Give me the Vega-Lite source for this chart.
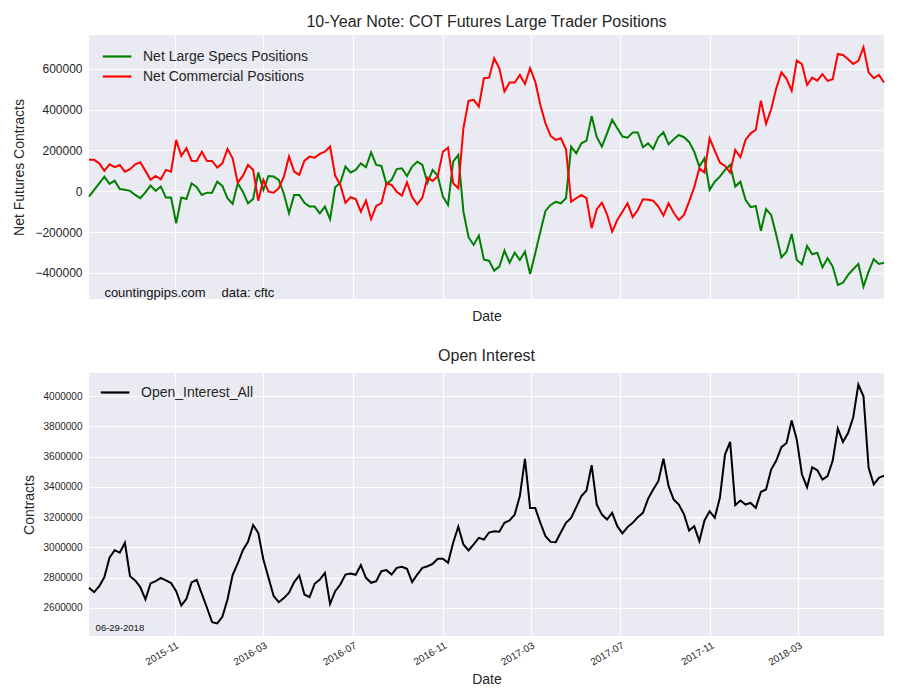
{
  "$schema": "https://vega.github.io/schema/vega-lite/v6.json",
  "background": "white",
  "padding": {"left": 12, "top": 14, "right": 14, "bottom": 10},
  "spacing": 25,
  "datasets": {
    "cot": [
      {"Date":"2015-07-07","Specs":-26000,"Commercial":154000,"Open_Interest_All":2732000},
      {"Date":"2015-07-14","Specs":7000,"Commercial":154000,"Open_Interest_All":2703000},
      {"Date":"2015-07-21","Specs":39000,"Commercial":137000,"Open_Interest_All":2743000},
      {"Date":"2015-07-28","Specs":72000,"Commercial":100000,"Open_Interest_All":2803000},
      {"Date":"2015-08-04","Specs":36000,"Commercial":132000,"Open_Interest_All":2931000},
      {"Date":"2015-08-11","Specs":52000,"Commercial":118000,"Open_Interest_All":2981000},
      {"Date":"2015-08-18","Specs":11000,"Commercial":129000,"Open_Interest_All":2964000},
      {"Date":"2015-08-25","Specs":7000,"Commercial":96000,"Open_Interest_All":3030000},
      {"Date":"2015-09-01","Specs":2000,"Commercial":108000,"Open_Interest_All":2809000},
      {"Date":"2015-09-08","Specs":-18000,"Commercial":132000,"Open_Interest_All":2781000},
      {"Date":"2015-09-15","Specs":-34000,"Commercial":142000,"Open_Interest_All":2737000},
      {"Date":"2015-09-22","Specs":-5000,"Commercial":100000,"Open_Interest_All":2655000},
      {"Date":"2015-09-29","Specs":28000,"Commercial":56000,"Open_Interest_All":2761000},
      {"Date":"2015-10-06","Specs":2000,"Commercial":75000,"Open_Interest_All":2776000},
      {"Date":"2015-10-13","Specs":23000,"Commercial":59000,"Open_Interest_All":2798000},
      {"Date":"2015-10-20","Specs":-31000,"Commercial":105000,"Open_Interest_All":2781000},
      {"Date":"2015-10-27","Specs":-31000,"Commercial":96000,"Open_Interest_All":2763000},
      {"Date":"2015-11-03","Specs":-157000,"Commercial":252000,"Open_Interest_All":2710000},
      {"Date":"2015-11-10","Specs":-31000,"Commercial":173000,"Open_Interest_All":2615000},
      {"Date":"2015-11-17","Specs":-38000,"Commercial":211000,"Open_Interest_All":2659000},
      {"Date":"2015-11-24","Specs":39000,"Commercial":150000,"Open_Interest_All":2768000},
      {"Date":"2015-12-01","Specs":20000,"Commercial":149000,"Open_Interest_All":2785000},
      {"Date":"2015-12-08","Specs":-18000,"Commercial":194000,"Open_Interest_All":2692000},
      {"Date":"2015-12-15","Specs":-7000,"Commercial":149000,"Open_Interest_All":2600000},
      {"Date":"2015-12-22","Specs":-7000,"Commercial":149000,"Open_Interest_All":2505000},
      {"Date":"2015-12-29","Specs":47000,"Commercial":116000,"Open_Interest_All":2496000},
      {"Date":"2016-01-05","Specs":26000,"Commercial":137000,"Open_Interest_All":2540000},
      {"Date":"2016-01-12","Specs":-34000,"Commercial":208000,"Open_Interest_All":2655000},
      {"Date":"2016-01-19","Specs":-62000,"Commercial":162000,"Open_Interest_All":2816000},
      {"Date":"2016-01-26","Specs":39000,"Commercial":42000,"Open_Interest_All":2893000},
      {"Date":"2016-02-02","Specs":-2000,"Commercial":75000,"Open_Interest_All":2981000},
      {"Date":"2016-02-09","Specs":-59000,"Commercial":129000,"Open_Interest_All":3036000},
      {"Date":"2016-02-16","Specs":-38000,"Commercial":105000,"Open_Interest_All":3147000},
      {"Date":"2016-02-23","Specs":92000,"Commercial":-46000,"Open_Interest_All":3096000},
      {"Date":"2016-03-01","Specs":7000,"Commercial":56000,"Open_Interest_All":2920000},
      {"Date":"2016-03-08","Specs":75000,"Commercial":-2000,"Open_Interest_All":2798000},
      {"Date":"2016-03-15","Specs":72000,"Commercial":-7000,"Open_Interest_All":2677000},
      {"Date":"2016-03-22","Specs":56000,"Commercial":15000,"Open_Interest_All":2637000},
      {"Date":"2016-03-29","Specs":-13000,"Commercial":72000,"Open_Interest_All":2664000},
      {"Date":"2016-04-05","Specs":-108000,"Commercial":170000,"Open_Interest_All":2699000},
      {"Date":"2016-04-12","Specs":-18000,"Commercial":96000,"Open_Interest_All":2770000},
      {"Date":"2016-04-19","Specs":-18000,"Commercial":80000,"Open_Interest_All":2814000},
      {"Date":"2016-04-26","Specs":-56000,"Commercial":150000,"Open_Interest_All":2688000},
      {"Date":"2016-05-03","Specs":-75000,"Commercial":170000,"Open_Interest_All":2670000},
      {"Date":"2016-05-10","Specs":-75000,"Commercial":165000,"Open_Interest_All":2759000},
      {"Date":"2016-05-17","Specs":-108000,"Commercial":183000,"Open_Interest_All":2787000},
      {"Date":"2016-05-24","Specs":-75000,"Commercial":194000,"Open_Interest_All":2831000},
      {"Date":"2016-05-31","Specs":-137000,"Commercial":219000,"Open_Interest_All":2626000},
      {"Date":"2016-06-07","Specs":20000,"Commercial":77000,"Open_Interest_All":2710000},
      {"Date":"2016-06-14","Specs":42000,"Commercial":31000,"Open_Interest_All":2754000},
      {"Date":"2016-06-21","Specs":121000,"Commercial":-56000,"Open_Interest_All":2820000},
      {"Date":"2016-06-28","Specs":92000,"Commercial":-29000,"Open_Interest_All":2827000},
      {"Date":"2016-07-05","Specs":105000,"Commercial":-38000,"Open_Interest_All":2818000},
      {"Date":"2016-07-12","Specs":137000,"Commercial":-100000,"Open_Interest_All":2882000},
      {"Date":"2016-07-19","Specs":118000,"Commercial":-46000,"Open_Interest_All":2798000},
      {"Date":"2016-07-26","Specs":191000,"Commercial":-136000,"Open_Interest_All":2765000},
      {"Date":"2016-08-02","Specs":129000,"Commercial":-72000,"Open_Interest_All":2776000},
      {"Date":"2016-08-09","Specs":124000,"Commercial":-59000,"Open_Interest_All":2842000},
      {"Date":"2016-08-16","Specs":36000,"Commercial":39000,"Open_Interest_All":2849000},
      {"Date":"2016-08-23","Specs":56000,"Commercial":31000,"Open_Interest_All":2820000},
      {"Date":"2016-08-30","Specs":109000,"Commercial":-2000,"Open_Interest_All":2864000},
      {"Date":"2016-09-06","Specs":113000,"Commercial":-21000,"Open_Interest_All":2871000},
      {"Date":"2016-09-13","Specs":75000,"Commercial":44000,"Open_Interest_All":2858000},
      {"Date":"2016-09-20","Specs":121000,"Commercial":-29000,"Open_Interest_All":2770000},
      {"Date":"2016-09-27","Specs":145000,"Commercial":-64000,"Open_Interest_All":2820000},
      {"Date":"2016-10-04","Specs":129000,"Commercial":-31000,"Open_Interest_All":2864000},
      {"Date":"2016-10-11","Specs":42000,"Commercial":67000,"Open_Interest_All":2875000},
      {"Date":"2016-10-18","Specs":105000,"Commercial":51000,"Open_Interest_All":2891000},
      {"Date":"2016-10-25","Specs":75000,"Commercial":75000,"Open_Interest_All":2924000},
      {"Date":"2016-11-01","Specs":-26000,"Commercial":194000,"Open_Interest_All":2924000},
      {"Date":"2016-11-08","Specs":-67000,"Commercial":214000,"Open_Interest_All":2898000},
      {"Date":"2016-11-15","Specs":145000,"Commercial":39000,"Open_Interest_All":3030000},
      {"Date":"2016-11-22","Specs":178000,"Commercial":15000,"Open_Interest_All":3136000},
      {"Date":"2016-11-29","Specs":-100000,"Commercial":309000,"Open_Interest_All":3019000},
      {"Date":"2016-12-06","Specs":-225000,"Commercial":443000,"Open_Interest_All":2979000},
      {"Date":"2016-12-13","Specs":-263000,"Commercial":448000,"Open_Interest_All":3019000},
      {"Date":"2016-12-20","Specs":-217000,"Commercial":415000,"Open_Interest_All":3063000},
      {"Date":"2016-12-27","Specs":-335000,"Commercial":554000,"Open_Interest_All":3052000},
      {"Date":"2017-01-03","Specs":-340000,"Commercial":557000,"Open_Interest_All":3098000},
      {"Date":"2017-01-10","Specs":-389000,"Commercial":652000,"Open_Interest_All":3107000},
      {"Date":"2017-01-17","Specs":-369000,"Commercial":603000,"Open_Interest_All":3103000},
      {"Date":"2017-01-24","Specs":-291000,"Commercial":489000,"Open_Interest_All":3162000},
      {"Date":"2017-01-31","Specs":-350000,"Commercial":533000,"Open_Interest_All":3178000},
      {"Date":"2017-02-07","Specs":-301000,"Commercial":533000,"Open_Interest_All":3217000},
      {"Date":"2017-02-14","Specs":-337000,"Commercial":570000,"Open_Interest_All":3339000},
      {"Date":"2017-02-21","Specs":-296000,"Commercial":526000,"Open_Interest_All":3586000},
      {"Date":"2017-02-28","Specs":-405000,"Commercial":603000,"Open_Interest_All":3261000},
      {"Date":"2017-03-07","Specs":-304000,"Commercial":538000,"Open_Interest_All":3261000},
      {"Date":"2017-03-14","Specs":-198000,"Commercial":423000,"Open_Interest_All":3162000},
      {"Date":"2017-03-21","Specs":-96000,"Commercial":333000,"Open_Interest_All":3074000},
      {"Date":"2017-03-28","Specs":-67000,"Commercial":271000,"Open_Interest_All":3036000},
      {"Date":"2017-04-04","Specs":-52000,"Commercial":252000,"Open_Interest_All":3034000},
      {"Date":"2017-04-11","Specs":-59000,"Commercial":260000,"Open_Interest_All":3100000},
      {"Date":"2017-04-18","Specs":-34000,"Commercial":206000,"Open_Interest_All":3162000},
      {"Date":"2017-04-25","Specs":219000,"Commercial":-51000,"Open_Interest_All":3195000},
      {"Date":"2017-05-02","Specs":186000,"Commercial":-34000,"Open_Interest_All":3266000},
      {"Date":"2017-05-09","Specs":235000,"Commercial":-18000,"Open_Interest_All":3339000},
      {"Date":"2017-05-16","Specs":248000,"Commercial":-34000,"Open_Interest_All":3376000},
      {"Date":"2017-05-23","Specs":369000,"Commercial":-181000,"Open_Interest_All":3544000},
      {"Date":"2017-05-30","Specs":265000,"Commercial":-88000,"Open_Interest_All":3283000},
      {"Date":"2017-06-06","Specs":219000,"Commercial":-56000,"Open_Interest_All":3217000},
      {"Date":"2017-06-13","Specs":284000,"Commercial":-113000,"Open_Interest_All":3184000},
      {"Date":"2017-06-20","Specs":350000,"Commercial":-198000,"Open_Interest_All":3228000},
      {"Date":"2017-06-27","Specs":309000,"Commercial":-141000,"Open_Interest_All":3140000},
      {"Date":"2017-07-04","Specs":268000,"Commercial":-100000,"Open_Interest_All":3092000},
      {"Date":"2017-07-11","Specs":263000,"Commercial":-59000,"Open_Interest_All":3134000},
      {"Date":"2017-07-18","Specs":288000,"Commercial":-127000,"Open_Interest_All":3162000},
      {"Date":"2017-07-25","Specs":288000,"Commercial":-92000,"Open_Interest_All":3200000},
      {"Date":"2017-08-01","Specs":216000,"Commercial":-39000,"Open_Interest_All":3228000},
      {"Date":"2017-08-08","Specs":235000,"Commercial":-42000,"Open_Interest_All":3321000},
      {"Date":"2017-08-15","Specs":208000,"Commercial":-46000,"Open_Interest_All":3383000},
      {"Date":"2017-08-22","Specs":265000,"Commercial":-75000,"Open_Interest_All":3438000},
      {"Date":"2017-08-29","Specs":289000,"Commercial":-119000,"Open_Interest_All":3586000},
      {"Date":"2017-09-05","Specs":230000,"Commercial":-59000,"Open_Interest_All":3405000},
      {"Date":"2017-09-12","Specs":255000,"Commercial":-105000,"Open_Interest_All":3316000},
      {"Date":"2017-09-19","Specs":276000,"Commercial":-141000,"Open_Interest_All":3283000},
      {"Date":"2017-09-26","Specs":265000,"Commercial":-116000,"Open_Interest_All":3219000},
      {"Date":"2017-10-03","Specs":242000,"Commercial":-51000,"Open_Interest_All":3111000},
      {"Date":"2017-10-10","Specs":194000,"Commercial":20000,"Open_Interest_All":3140000},
      {"Date":"2017-10-17","Specs":121000,"Commercial":113000,"Open_Interest_All":3041000},
      {"Date":"2017-10-24","Specs":162000,"Commercial":92000,"Open_Interest_All":3178000},
      {"Date":"2017-10-31","Specs":7000,"Commercial":260000,"Open_Interest_All":3239000},
      {"Date":"2017-11-07","Specs":47000,"Commercial":199000,"Open_Interest_All":3195000},
      {"Date":"2017-11-14","Specs":72000,"Commercial":141000,"Open_Interest_All":3328000},
      {"Date":"2017-11-21","Specs":105000,"Commercial":124000,"Open_Interest_All":3614000},
      {"Date":"2017-11-28","Specs":129000,"Commercial":92000,"Open_Interest_All":3698000},
      {"Date":"2017-12-05","Specs":23000,"Commercial":203000,"Open_Interest_All":3279000},
      {"Date":"2017-12-12","Specs":47000,"Commercial":167000,"Open_Interest_All":3310000},
      {"Date":"2017-12-19","Specs":-42000,"Commercial":252000,"Open_Interest_All":3283000},
      {"Date":"2017-12-26","Specs":-78000,"Commercial":284000,"Open_Interest_All":3294000},
      {"Date":"2018-01-02","Specs":-72000,"Commercial":301000,"Open_Interest_All":3261000},
      {"Date":"2018-01-09","Specs":-194000,"Commercial":444000,"Open_Interest_All":3367000},
      {"Date":"2018-01-16","Specs":-87000,"Commercial":330000,"Open_Interest_All":3383000},
      {"Date":"2018-01-23","Specs":-116000,"Commercial":402000,"Open_Interest_All":3515000},
      {"Date":"2018-01-30","Specs":-214000,"Commercial":505000,"Open_Interest_All":3574000},
      {"Date":"2018-02-06","Specs":-324000,"Commercial":583000,"Open_Interest_All":3663000},
      {"Date":"2018-02-13","Specs":-296000,"Commercial":551000,"Open_Interest_All":3691000},
      {"Date":"2018-02-20","Specs":-209000,"Commercial":493000,"Open_Interest_All":3839000},
      {"Date":"2018-02-27","Specs":-337000,"Commercial":641000,"Open_Interest_All":3713000},
      {"Date":"2018-03-06","Specs":-358000,"Commercial":623000,"Open_Interest_All":3482000},
      {"Date":"2018-03-13","Specs":-268000,"Commercial":521000,"Open_Interest_All":3398000},
      {"Date":"2018-03-20","Specs":-309000,"Commercial":557000,"Open_Interest_All":3530000},
      {"Date":"2018-03-27","Specs":-301000,"Commercial":542000,"Open_Interest_All":3510000},
      {"Date":"2018-04-03","Specs":-373000,"Commercial":574000,"Open_Interest_All":3449000},
      {"Date":"2018-04-10","Specs":-328000,"Commercial":541000,"Open_Interest_All":3471000},
      {"Date":"2018-04-17","Specs":-369000,"Commercial":549000,"Open_Interest_All":3574000},
      {"Date":"2018-04-24","Specs":-459000,"Commercial":673000,"Open_Interest_All":3786000},
      {"Date":"2018-05-01","Specs":-448000,"Commercial":668000,"Open_Interest_All":3698000},
      {"Date":"2018-05-08","Specs":-410000,"Commercial":647000,"Open_Interest_All":3757000},
      {"Date":"2018-05-15","Specs":-382000,"Commercial":624000,"Open_Interest_All":3861000},
      {"Date":"2018-05-22","Specs":-356000,"Commercial":639000,"Open_Interest_All":4077000},
      {"Date":"2018-05-29","Specs":-467000,"Commercial":706000,"Open_Interest_All":4000000},
      {"Date":"2018-06-05","Specs":-394000,"Commercial":583000,"Open_Interest_All":3526000},
      {"Date":"2018-06-12","Specs":-333000,"Commercial":554000,"Open_Interest_All":3416000},
      {"Date":"2018-06-19","Specs":-356000,"Commercial":570000,"Open_Interest_All":3460000},
      {"Date":"2018-06-26","Specs":-350000,"Commercial":533000,"Open_Interest_All":3475000}
    ]
  },
  "resolve": {"scale": {"x": "independent", "y": "independent", "color": "independent"}, "legend": {"color": "independent"}},
  "vconcat": [
    {
      "width": 795,
      "height": 264,
      "title": {"text": "10-Year Note: COT Futures Large Trader Positions", "fontSize": 16, "font": "Liberation Sans", "fontWeight": "normal", "color": "#262626", "anchor": "middle", "frame": "group", "offset": 5},
      "data": {"name": "cot"},
      "layer": [
        {
          "transform": [{"fold": ["Specs", "Commercial"], "as": ["Series", "Value"]}],
          "mark": {"type": "line", "strokeWidth": 2},
          "encoding": {
            "x": {"field": "Date", "type": "temporal", "scale": {"domain": ["2015-07-07", "2018-06-26"], "nice": false},
                  "axis": {"title": "Date", "labels": false, "values": ["2015-11-01", "2016-03-01", "2016-07-01", "2016-11-01", "2017-03-01", "2017-07-01", "2017-11-01", "2018-03-01"], "titlePadding": 10, "titleFontSize": 14}},
            "y": {"field": "Value", "type": "quantitative", "scale": {"domain": [-528000, 766000], "nice": false, "zero": false},
                  "axis": {"title": "Net Futures Contracts", "values": [-400000, -200000, 0, 200000, 400000, 600000], "format": "d", "labelFontSize": 12, "labelPadding": 7, "titleFontSize": 14, "titlePadding": 8}},
            "color": {"field": "Series", "type": "nominal",
                      "scale": {"domain": ["Specs", "Commercial"], "range": ["#008000", "#ff0000"]},
                      "legend": {"title": null, "orient": "top-left", "labelExpr": "datum.label == 'Specs' ? 'Net Large Specs Positions' : 'Net Commercial Positions'"}}
          }
        },
        {
          "data": {"values": [{}]},
          "mark": {"type": "text", "align": "left", "baseline": "middle", "fontSize": 13, "font": "Liberation Sans", "color": "#111111"},
          "encoding": {"x": {"datum": {"year": 2015, "month": 7, "date": 28}, "type": "temporal"}, "y": {"datum": -500000, "type": "quantitative"}, "text": {"value": "countingpips.com"}}
        },
        {
          "data": {"values": [{}]},
          "mark": {"type": "text", "align": "left", "baseline": "middle", "fontSize": 13, "font": "Liberation Sans", "color": "#111111"},
          "encoding": {"x": {"datum": {"year": 2016, "month": 1, "date": 4}, "type": "temporal"}, "y": {"datum": -500000, "type": "quantitative"}, "text": {"value": "data: cftc"}}
        }
      ]
    },
    {
      "width": 795,
      "height": 263,
      "title": {"text": "Open Interest", "fontSize": 16, "font": "Liberation Sans", "fontWeight": "normal", "color": "#262626", "anchor": "middle", "frame": "group", "offset": 9},
      "data": {"name": "cot"},
      "encoding": {
        "y": {"type": "quantitative", "scale": {"domain": [2413000, 4154000], "nice": false, "zero": false},
              "axis": {"title": "Contracts", "values": [2600000, 2800000, 3000000, 3200000, 3400000, 3600000, 3800000, 4000000], "format": "d", "labelFontSize": 10, "labelPadding": 7, "labelOverlap": false, "labelSeparation": 0, "labelBound": false, "titleFontSize": 14, "titlePadding": 7}}
      },
      "layer": [
        {
          "mark": {"type": "line", "strokeWidth": 2},
          "encoding": {
            "x": {"field": "Date", "type": "temporal", "scale": {"domain": ["2015-07-07", "2018-06-26"], "nice": false},
                  "axis": {"title": "Date", "format": "%Y-%m", "values": ["2015-11-01", "2016-03-01", "2016-07-01", "2016-11-01", "2017-03-01", "2017-07-01", "2017-11-01", "2018-03-01"], "labelAngle": -30, "labelAlign": "right", "labelBaseline": "top", "labelFontSize": 10, "labelPadding": 4, "titlePadding": 5, "titleFontSize": 14}},
            "y": {"field": "Open_Interest_All", "type": "quantitative"},
            "color": {"datum": "Open_Interest_All", "type": "nominal", "scale": {"range": ["#000000"]},
                      "legend": {"title": null, "orient": "top-left", "offset": 2}}
          }
        },
        {
          "data": {"values": [{}]},
          "mark": {"type": "text", "align": "left", "baseline": "middle", "fontSize": 9.5, "font": "Liberation Sans", "color": "#111111"},
          "encoding": {"x": {"datum": {"year": 2015, "month": 7, "date": 16}, "type": "temporal"}, "y": {"datum": 2468000}, "text": {"value": "06-29-2018"}}
        }
      ]
    }
  ],
  "config": {
    "font": "Liberation Sans",
    "view": {"fill": "#EAEAF2", "stroke": null},
    "axis": {"domain": false, "ticks": false, "grid": true, "gridColor": "#ffffff", "gridWidth": 1.2, "gridOpacity": 1, "labelOverlap": false, "labelFont": "Liberation Sans", "titleFont": "Liberation Sans", "labelColor": "#262626", "titleColor": "#262626", "titleFontWeight": "normal"},
    "legend": {"labelFont": "Liberation Sans", "labelFontSize": 14, "labelColor": "#262626", "labelLimit": 0, "symbolType": "M-0.7,0L1.9,0", "symbolSize": 484, "symbolStrokeWidth": 2.2, "labelOffset": 20, "rowPadding": -2, "offset": 4, "padding": 5}
  }
}
